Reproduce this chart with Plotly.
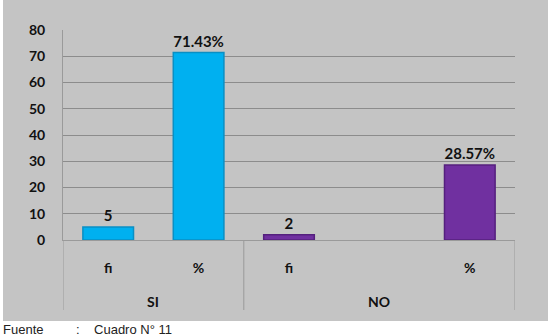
import plotly.graph_objects as go

groups = ["SI", "SI", "NO", "NO", "NO"]
subcats = ["fi", "%", "fi", "", "%"]
values = [5, 71.43, 2, None, 28.57]
labels = ["5", "71.43%", "2", "", "28.57%"]
colors = ["#00B0F0", "#00B0F0", "#7030A0", "#7030A0", "#7030A0"]
edge_colors = ["#0a8fc4", "#0a8fc4", "#55207e", "#55207e", "#55207e"]
y_ticks = [0, 10, 20, 30, 40, 50, 60, 70, 80]

W, H = 551, 336
L, R, T, B = 63, 36, 30, 96
pw, ph = W - L - R, H - T - B

def px_x(px):
    return (px - L) / pw

def px_y(py):
    return (H - B - py) / ph

FONT = "Lato, 'Century Gothic', sans-serif"
cat_ids = [f"{g}|{s}|{i}" for i, (g, s) in enumerate(zip(groups, subcats))]

fig = go.Figure()
fig.add_trace(go.Bar(
    x=cat_ids,
    y=values,
    text=labels,
    textposition="outside",
    cliponaxis=False,
    marker=dict(color=colors, line=dict(color=edge_colors, width=1.5)),
    width=0.56,
    textfont=dict(family=FONT, size=15, color="#111111", weight="bold"),
    hoverinfo="skip",
))

shapes = [dict(
    type="rect", xref="paper", yref="paper", layer="below",
    x0=px_x(3), x1=px_x(548), y0=px_y(321), y1=px_y(0),
    fillcolor="#c4c4c4", line=dict(width=0),
)]
annotations = []

spans = []
start = 0
for i in range(1, len(groups) + 1):
    if i == len(groups) or groups[i] != groups[start]:
        spans.append((groups[start], start, i - 1))
        start = i
div_pos = [-0.5] + [e + 0.5 for _, _, e in spans]
for xp in div_pos:
    shapes.append(dict(type="line", xref="x", yref="paper", x0=xp, x1=xp,
                       y0=0, y1=px_y(310), line=dict(color="#9a9a9a", width=1)))
for g, s, e in spans:
    annotations.append(dict(xref="x", yref="paper", x=(s + e) / 2, y=px_y(301),
                            text=g, showarrow=False, xanchor="center", yanchor="middle",
                            font=dict(family=FONT, size=14, color="#111111", weight="bold")))

annotations.append(dict(
    xref="paper", yref="paper", x=px_x(1), y=px_y(329),
    xanchor="left", yanchor="middle", showarrow=False,
    text="Fuente\u00a0\u00a0\u00a0\u00a0\u00a0\u00a0\u00a0\u00a0\u00a0:\u00a0\u00a0\u00a0\u00a0Cuadro N° 11",
    font=dict(family="Liberation Sans, Arial, sans-serif", size=13, color="#222222"),
))

fig.update_layout(
    width=W, height=H,
    margin=dict(l=L, r=R, t=T, b=B),
    paper_bgcolor="white",
    plot_bgcolor="rgba(0,0,0,0)",
    showlegend=False,
    shapes=shapes,
    annotations=annotations,
)

fig.update_yaxes(
    range=[0, 80], tickvals=y_ticks,
    showgrid=True, gridcolor="#8c8c8c", gridwidth=1,
    zeroline=False,
    showline=True, linecolor="#9a9a9a", linewidth=1,
    ticklabelstandoff=14,
    tickfont=dict(family=FONT, size=14, color="#111111", weight="bold"),
)
fig.update_xaxes(
    type="category",
    categoryorder="array", categoryarray=cat_ids,
    range=[-0.5, len(cat_ids) - 0.5],
    tickvals=cat_ids, ticktext=subcats,
    ticks="outside", ticklen=15, tickcolor="rgba(0,0,0,0)",
    showline=True, linecolor="#9a9a9a", linewidth=1,
    tickfont=dict(family=FONT, size=14, color="#111111", weight="bold"),
)

fig.write_html("out.html")
